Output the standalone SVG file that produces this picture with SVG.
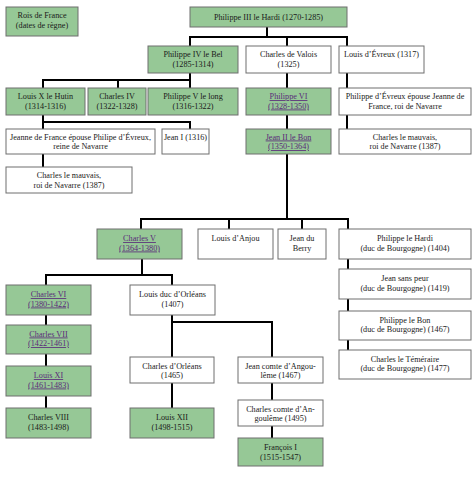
<svg xmlns="http://www.w3.org/2000/svg" width="474" height="478" viewBox="0 0 474 478">
<style>
.g,.w{stroke:#6e6e6e;stroke-width:1}
.g{fill:#96c896}
.w{fill:#ffffff}
text{font-family:"Liberation Serif","Times New Roman",serif;font-size:8.2px;fill:#1a1a1a;text-anchor:middle}
.l{fill:#5a2a7a;text-decoration:underline}
#conn path{fill:none;stroke:#000;stroke-width:2}
</style>
<rect width="474" height="478" fill="#fff"/>
<g id="conn">
<path d="M267,27V37M190,46V37H347V46M287,37V46"/>
<path d="M190,73V80M43,88V80H190V88M118,80V88"/>
<path d="M287,73V88M347,73V88"/>
<path d="M43,115V122M43,129V122H190V129"/>
<path d="M43,154V167"/>
<path d="M287,115V129M347,115V129"/>
<path d="M287,154V219M141,229V219H348V229M229,219V229M302,219V229"/>
<path d="M348,259V269M348,299V311M348,340V350"/>
<path d="M142,259V275M46,285V275H172V285"/>
<path d="M46,315V325M46,354V366M46,396V408"/>
<path d="M172,315V357M172,322H272V357"/>
<path d="M172,383V408"/>
<path d="M272,383V400M272,426V438"/>
</g>
<g id="legend"><rect class="g" x="6" y="7" width="72" height="29"/><text x="42" y="18">Rois de France</text><text x="42" y="28">(dates de règne)</text></g>
<g id="p3"><rect class="g" x="190" y="7" width="157" height="20"/><text x="268.5" y="20">Philippe III le Hardi (1270-1285)</text></g>
<g id="p4"><rect class="g" x="148" y="46" width="90" height="27"/><text x="193" y="57">Philippe IV le Bel</text><text x="193" y="66.5">(1285-1314)</text></g>
<g id="cvalois"><rect class="w" x="246" y="46" width="85" height="27"/><text x="288.5" y="57">Charles de Valois</text><text x="288.5" y="66.5">(1325)</text></g>
<g id="levreux"><rect class="w" x="339" y="46" width="85" height="27"/><text x="381.5" y="57">Louis d’Évreux (1317)</text></g>
<g id="lx"><rect class="g" x="6" y="88" width="79" height="27"/><text x="45.5" y="99">Louis X le Hutin</text><text x="45.5" y="108.5">(1314-1316)</text></g>
<g id="c4"><rect class="g" x="88" y="88" width="58" height="27"/><text x="117" y="99">Charles IV</text><text x="117" y="108.5">(1322-1328)</text></g>
<g id="p5"><rect class="g" x="148" y="88" width="90" height="27"/><text x="193" y="99">Philippe V le long</text><text x="193" y="108.5">(1316-1322)</text></g>
<g id="p6"><rect class="g" x="246" y="88" width="85" height="27"/><text class="l" x="288.5" y="99">Philippe VI</text><text class="l" x="288.5" y="108.5">(1328-1350)</text></g>
<g id="pevreux"><rect class="w" x="339" y="88" width="132" height="27"/><text x="405" y="99">Philippe d’Évreux épouse Jeanne de</text><text x="405" y="108.5">France, roi de Navarre</text></g>
<g id="jfrance"><rect class="w" x="6" y="129" width="149" height="25"/><text x="80.5" y="139.5">Jeanne de France épouse Philipe d’Évreux,</text><text x="80.5" y="149">reine de Navarre</text></g>
<g id="j1"><rect class="w" x="162" y="129" width="47" height="25"/><text x="185.5" y="139.5">Jean I (1316)</text></g>
<g id="j2"><rect class="g" x="246" y="129" width="85" height="25"/><text class="l" x="288.5" y="139.5">Jean II le Bon</text><text class="l" x="288.5" y="149">(1350-1364)</text></g>
<g id="cm2"><rect class="w" x="339" y="129" width="132" height="25"/><text x="405" y="139.5">Charles le mauvais,</text><text x="405" y="149">roi de Navarre (1387)</text></g>
<g id="cm1"><rect class="w" x="6" y="167" width="126" height="26"/><text x="69" y="178">Charles le mauvais,</text><text x="69" y="187.5">roi de Navarre (1387)</text></g>
<g id="c5"><rect class="g" x="97" y="229" width="85" height="30"/><text class="l" x="139.5" y="241">Charles V</text><text class="l" x="139.5" y="250.5">(1364-1380)</text></g>
<g id="lanjou"><rect class="w" x="198" y="229" width="75" height="30"/><text x="235.5" y="241">Louis d’Anjou</text></g>
<g id="jberry"><rect class="w" x="278" y="229" width="48" height="30"/><text x="302" y="241">Jean du</text><text x="302" y="250.5">Berry</text></g>
<g id="phardi"><rect class="w" x="339" y="229" width="132" height="30"/><text x="405" y="241">Philippe le Hardi</text><text x="405" y="250.5">(duc de Bourgogne) (1404)</text></g>
<g id="jsp"><rect class="w" x="339" y="269" width="132" height="30"/><text x="405" y="281">Jean sans peur</text><text x="405" y="290.5">(duc de Bourgogne) (1419)</text></g>
<g id="pbon"><rect class="w" x="339" y="311" width="132" height="29"/><text x="405" y="322.5">Philippe le Bon</text><text x="405" y="332">(duc de Bourgogne) (1467)</text></g>
<g id="ctem"><rect class="w" x="339" y="350" width="132" height="29"/><text x="405" y="361.5">Charles le Téméraire</text><text x="405" y="371">(duc de Bourgogne) (1477)</text></g>
<g id="c6"><rect class="g" x="6" y="285" width="85" height="30"/><text class="l" x="48.5" y="297">Charles VI</text><text class="l" x="48.5" y="306.5">(1380-1422)</text></g>
<g id="lorleans"><rect class="w" x="130" y="285" width="85" height="30"/><text x="172.5" y="297">Louis duc d’Orléans</text><text x="172.5" y="306.5">(1407)</text></g>
<g id="c7"><rect class="g" x="6" y="325" width="85" height="29"/><text class="l" x="48.5" y="336.5">Charles VII</text><text class="l" x="48.5" y="346">(1422-1461)</text></g>
<g id="l11"><rect class="g" x="6" y="366" width="85" height="30"/><text class="l" x="48.5" y="378">Louis XI</text><text class="l" x="48.5" y="387.5">(1461-1483)</text></g>
<g id="c8"><rect class="g" x="6" y="408" width="85" height="30"/><text x="48.5" y="420">Charles VIII</text><text x="48.5" y="429.5">(1483-1498)</text></g>
<g id="corleans"><rect class="w" x="130" y="357" width="84" height="26"/><text x="172" y="368.5">Charles d’Orléans</text><text x="172" y="378">(1465)</text></g>
<g id="l12"><rect class="g" x="130" y="408" width="84" height="30"/><text x="172" y="420">Louis XII</text><text x="172" y="429.5">(1498-1515)</text></g>
<g id="jca"><rect class="w" x="238" y="357" width="85" height="26"/><text x="280.5" y="368.5">Jean comte d’Angou-</text><text x="280.5" y="378">lême (1467)</text></g>
<g id="cca"><rect class="w" x="238" y="400" width="85" height="26"/><text x="280.5" y="411.5">Charles comte d’An-</text><text x="280.5" y="421">goulême (1495)</text></g>
<g id="f1"><rect class="g" x="238" y="438" width="85" height="28"/><text x="280.5" y="450">François I</text><text x="280.5" y="459.5">(1515-1547)</text></g>
</svg>
